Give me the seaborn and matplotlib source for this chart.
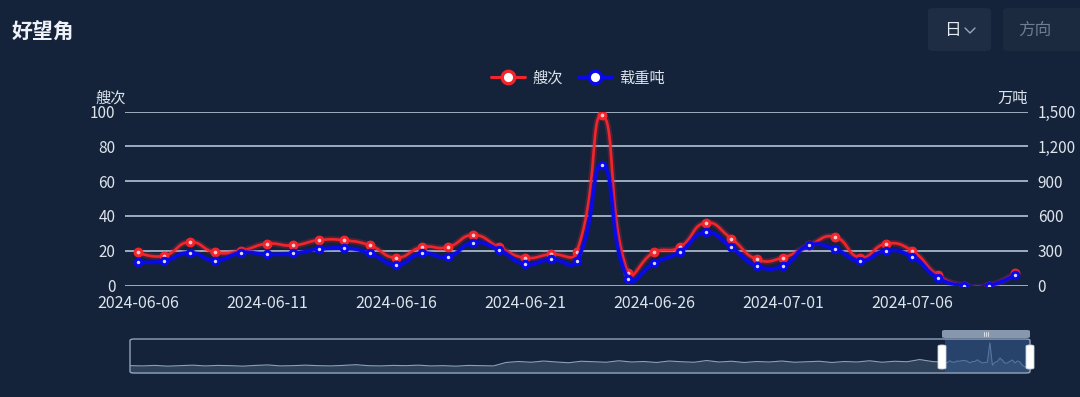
import numpy as np
import pandas as pd
import matplotlib
matplotlib.use("Agg")
import matplotlib.pyplot as plt
import seaborn as sns
from matplotlib.patches import FancyBboxPatch, Rectangle
from matplotlib.lines import Line2D
from matplotlib.ticker import FuncFormatter

# ---------------- data ----------------
dates = pd.date_range("2024-06-06", periods=35, freq="D")
ships = [19, 17, 25, 19, 20, 24, 23, 26, 26, 23, 16, 22, 22, 29, 22, 16, 18, 19,
         98, 7, 19, 22, 36, 27, 15, 16, 23, 28, 16, 24, 20, 6, 0, 0, 7]
tonnage = [203, 211, 283, 214, 283, 269, 277, 312, 323, 277, 180, 277, 249, 369,
           306, 185, 226, 208, 1036, 56, 191, 289, 459, 329, 168, 168, 345, 315,
           214, 300, 249, 67, 0, 0, 93]
# overview (dataZoom shadow) of earlier history, 5-day samples
history = [5, 4, 6, 3, 5, 7, 4, 6, 5, 3, 6, 8, 4, 5, 7, 5, 4, 6, 9, 5, 4, 6, 5, 7,
           4, 5, 3, 6, 5, 4,
           18, 22, 19, 24, 20, 17, 23, 21, 19, 25, 20, 22, 18, 24, 21, 19, 26, 20,
           23, 18, 22, 20, 24, 19, 21, 23, 18, 22, 20, 25, 19, 23, 21, 30, 22]
series_names = ["艘次", "载重吨"]
left_name, right_name = "艘次", "万吨"
title = "好望角"

# ---------------- style ----------------
BG = "#14233a"
GRID = "#a6b8ca"
TXT = "#dde4ec"
RED = "#f2252d"
BLUE = "#0a0ae8"

sns.set_theme(style="dark")
plt.rcParams["font.family"] = ["Noto Sans CJK SC", "DejaVu Sans"]
plt.rcParams["axes.unicode_minus"] = False

W, H = 1080, 397
fig = plt.figure(figsize=(W / 100, H / 100), dpi=100, facecolor=BG)


def fx(px):
    return px / W


def fy(py):
    return 1 - py / H


def smooth_curve(xs, ys, sx, sy, s=0.5, n=24):
    """echarts-like bezier smoothing computed in pixel space"""
    P = np.column_stack([np.asarray(xs, float) * sx, np.asarray(ys, float) * sy])
    N = len(P)
    cin = P.copy()
    cout = P.copy()
    for i in range(1, N - 1):
        v = P[i + 1] - P[i - 1]
        l0 = np.linalg.norm(P[i] - P[i - 1])
        l1 = np.linalg.norm(P[i + 1] - P[i])
        r = l1 / (l0 + l1) if (l0 + l1) > 0 else 0.5
        cin[i] = P[i] - v * s * (1 - r)
        cout[i] = P[i] + v * s * r
    out = []
    t = np.linspace(0, 1, n)[:, None]
    for i in range(N - 1):
        p0, p1, p2, p3 = P[i], cout[i], cin[i + 1], P[i + 1]
        seg = ((1 - t) ** 3) * p0 + 3 * ((1 - t) ** 2) * t * p1 + 3 * (1 - t) * t ** 2 * p2 + t ** 3 * p3
        out.append(seg if i == 0 else seg[1:])
    out = np.vstack(out)
    return out[:, 0] / sx, out[:, 1] / sy


idx = np.arange(len(dates))
ax = fig.add_axes([fx(125), fy(285.5), 903 / W, 174 / H])
ax.set_facecolor(BG)
ax.set_xlim(-0.5, len(dates) - 0.5)
ax.set_ylim(0, 100)
ax.set_yticks(range(0, 101, 20))
ax.grid(False)
for v in range(0, 101, 20):
    ax.axhline(v, color=GRID, lw=1.3, zorder=1)
for s in ax.spines.values():
    s.set_visible(False)
ax.set_xticks(idx[::5])
ax.set_xticklabels([d.strftime("%Y-%m-%d") for d in dates[::5]])
ax.tick_params(axis="x", length=4, width=1, color=GRID, pad=3, labelcolor=TXT, labelsize=11.5)
ax.tick_params(axis="y", length=0, pad=7, labelcolor=TXT, labelsize=11)

ax2 = ax.twinx()
ax2.set_ylim(0, 1500)
ax2.set_yticks(range(0, 1501, 300))
ax2.yaxis.set_major_formatter(FuncFormatter(lambda v, p: f"{int(v):,}"))
ax2.tick_params(axis="y", length=0, pad=7, labelcolor=TXT, labelsize=11)
ax2.grid(False)
for s in ax2.spines.values():
    s.set_visible(False)
ax2.patch.set_alpha(0)

# red series (left)
cx, cy = smooth_curve(idx, ships, 25.8, 1.74)
df_r = pd.DataFrame({"x": cx, "y": cy})
ax.plot(cx, cy, color=RED, lw=4.5, alpha=0.25, zorder=3, solid_capstyle="round")
sns.lineplot(data=df_r, x="x", y="y", ax=ax, color=RED, lw=1.9, sort=False,
             estimator=None, zorder=4)
sns.scatterplot(x=idx, y=ships, ax=ax, s=24, color="#ffc8c8", edgecolor=RED,
                linewidth=2.2, zorder=5)

# blue series (right)
bx, by = smooth_curve(idx, tonnage, 25.8, 174 / 1500)
df_b = pd.DataFrame({"x": bx, "y": by})
ax2.plot(bx, by, color=BLUE, lw=4.0, alpha=0.3, zorder=3, solid_capstyle="round")
sns.lineplot(data=df_b, x="x", y="y", ax=ax2, color=BLUE, lw=2.4, sort=False,
             estimator=None, zorder=4)
sns.scatterplot(x=idx, y=tonnage, ax=ax2, s=22, color="#d8d8ff", edgecolor=BLUE,
                linewidth=2.2, zorder=5)
ax.set_xlabel("")
ax.set_ylabel("")
ax2.set_xlabel("")
ax2.set_ylabel("")
ax.set_xlim(-0.5, len(dates) - 0.5)

# axis names
fig.text(fx(95), fy(98), left_name, color=TXT, fontsize=11, ha="left", va="center")
fig.text(fx(1028), fy(98), right_name, color=TXT, fontsize=11, ha="right", va="center")

# legend
handles = [
    Line2D([], [], color=RED, lw=2.2, marker="o", ms=9, mfc="white", mec=RED, mew=2.4),
    Line2D([], [], color=BLUE, lw=2.2, marker="o", ms=9, mfc="white", mec=BLUE, mew=2.4),
]
leg = fig.legend(handles, series_names, loc="center", bbox_to_anchor=(fx(578), fy(78)),
                 ncol=2, frameon=False, handlelength=2.2, handletextpad=0.5,
                 columnspacing=1.0, fontsize=11)
for t in leg.get_texts():
    t.set_color(TXT)

# title
fig.text(fx(12), fy(31), title, color="#eef2f6", fontsize=15, fontweight="bold",
         ha="left", va="center")

# top-right buttons
fig.patches.append(FancyBboxPatch((fx(928), fy(51)), fx(63), 43 / H,
                                  boxstyle="round,pad=0,rounding_size=0.006",
                                  transform=fig.transFigure, fc="#1f2d44", ec="none"))
fig.text(fx(952), fy(30), "日", color="#e6ebf1", fontsize=12, ha="center", va="center")
fig.add_artist(Line2D([fx(965), fx(970), fx(975)], [fy(28), fy(33), fy(28)],
                      transform=fig.transFigure, color="#9aa7b8", lw=1.0))
fig.patches.append(FancyBboxPatch((fx(1003), fy(51)), fx(90), 43 / H,
                                  boxstyle="round,pad=0,rounding_size=0.006",
                                  transform=fig.transFigure, fc="#1c2a40", ec="none"))
fig.text(fx(1035), fy(30), "方向", color="#6f7d90", fontsize=12, ha="center", va="center")

# dataZoom slider
sl = fig.add_axes([fx(130), fy(373), 900 / W, 34 / H])
sl.set_facecolor("none")
sl.axis("off")
hx = [-5 * (len(history) - i) for i in range(len(history))]
ov_x = np.array(hx + list(idx), float)
ov_y = np.array(history + ships, float)
sl.set_xlim(ov_x[0], ov_x[-1])
sl.set_ylim(-25, 114)
sl.fill_between(ov_x, -25, ov_y, color="#2e4159", lw=0, zorder=1)
sl.plot(ov_x, ov_y, color="#8ba1ba", lw=0.8, zorder=2)
sl.axvspan(0, ov_x[-1], color="#34588c", alpha=0.6, lw=0, zorder=3)
fig.patches.append(FancyBboxPatch((fx(130), fy(373)), 900 / W, 34 / H,
                                  boxstyle="round,pad=0,rounding_size=0.004",
                                  transform=fig.transFigure, fc="none", ec="#8fa3bb", lw=1.0))
fig.patches.append(FancyBboxPatch((fx(942), fy(338)), 88 / W, 8 / H,
                                  boxstyle="round,pad=0,rounding_size=0.003",
                                  transform=fig.transFigure, fc="#8797ad", ec="none"))
for dx in (-2, 0, 2):
    fig.add_artist(Line2D([fx(986 + dx)] * 2, [fy(332), fy(336)],
                          transform=fig.transFigure, color="#e8edf3", lw=0.6))
for hxp in (942, 1030):
    fig.patches.append(FancyBboxPatch((fx(hxp - 4), fy(369)), 8 / W, 24 / H,
                                      boxstyle="round,pad=0,rounding_size=0.003",
                                      transform=fig.transFigure, fc="white", ec="#c8d2de", lw=0.6))

fig.savefig("out.png", dpi=100, facecolor=BG)
